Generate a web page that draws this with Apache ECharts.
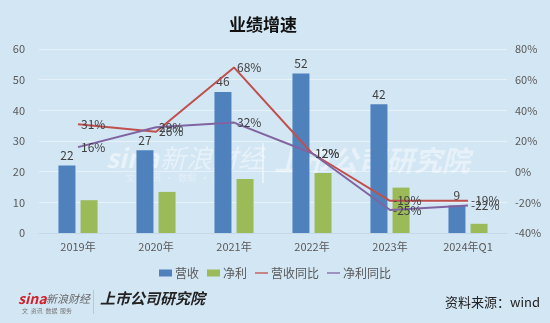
<!DOCTYPE html>
<html><head><meta charset="utf-8">
<script src="https://cdn.jsdelivr.net/npm/echarts@6/dist/echarts.min.js"></script>
<style>html,body{margin:0;padding:0;background:#d3e6f4;}#c{width:550px;height:323px;}</style>
</head><body><div id="c"></div>
<script>
const categories = ['2019年','2020年','2021年','2022年','2023年','2024年Q1'];
const revenue = [22, 27, 46, 52, 42, 9];
const profit = [10.7, 13.4, 17.6, 19.6, 14.8, 3.0];
const revenueYoY = [31, 26, 68, 12, -19, -19];
const profitYoY = [16, 29, 32, 12, -25, -22];
const leftTicks = [0, 10, 20, 30, 40, 50, 60];
const rightTicks = [-40, -20, 0, 20, 40, 60, 80];

const chart = echarts.init(document.getElementById('c'), null, {renderer:'canvas'});
const font = '"Noto Sans CJK SC", "Noto Sans", sans-serif';
const gray = '#595959';
const lineLabel = {show: true, position: 'right', color: '#404040', fontSize: 12, distance: 3, formatter: '{c}%'};
chart.setOption({
  backgroundColor: '#d3e6f4',
  animation: false,
  textStyle: {fontFamily: font},
  title: {text: '业绩增速', left: 258, top: 11, textAlign: 'center',
    textStyle: {fontSize: 17, fontWeight: 'bold', color: '#111', fontFamily: font}},
  grid: {left: 39, right: 43, top: 49, bottom: 90},
  legend: {top: 262, left: 'center', itemGap: 8, itemWidth: 13, itemHeight: 7,
    textStyle: {color: gray, fontSize: 12, fontFamily: font, padding: [0, 0, 0, -2]},
    data: [
      {name: '营收', icon: 'rect'},
      {name: '净利', icon: 'rect'},
      {name: '营收同比', icon: 'path://M0,0 L20,0 L20,2 L0,2 Z'},
      {name: '净利同比', icon: 'path://M0,0 L20,0 L20,2 L0,2 Z'}
    ]},
  xAxis: {type: 'category', data: categories,
    axisLine: {show: true, lineStyle: {color: '#c5d8e8'}}, axisTick: {show: false},
    axisLabel: {color: gray, fontSize: 11, margin: 8}},
  yAxis: [
    {type: 'value', min: leftTicks[0], max: leftTicks[leftTicks.length-1], interval: 10,
      axisLabel: {color: gray, fontSize: 11, margin: 14},
      splitLine: {lineStyle: {color: 'rgba(255,255,255,0.45)'}}, axisLine: {show: false}},
    {type: 'value', min: rightTicks[0], max: rightTicks[rightTicks.length-1], interval: 20,
      axisLabel: {color: gray, fontSize: 11, margin: 8, formatter: '{value}%'},
      splitLine: {show: false}, axisLine: {show: false}}
  ],
  series: [
    {name: '营收', type: 'bar', data: revenue, barWidth: 17, barGap: '30%', z: 5,
      itemStyle: {color: '#4f81bd'},
      label: {show: true, position: 'top', color: '#404040', fontSize: 12, distance: 4}},
    {name: '净利', type: 'bar', data: profit, barWidth: 17, z: 5,
      itemStyle: {color: '#9bbb59'}},
    {name: '营收同比', type: 'line', yAxisIndex: 1, data: revenueYoY, showSymbol: true, symbol: 'circle', symbolSize: 0.1, z: 6,
      lineStyle: {color: '#c0504d', width: 2}, itemStyle: {color: '#c0504d'},
      label: lineLabel, labelLayout: {hideOverlap: false}},
    {name: '净利同比', type: 'line', yAxisIndex: 1, data: profitYoY, showSymbol: true, symbol: 'circle', symbolSize: 0.1, z: 6,
      lineStyle: {color: '#8064a2', width: 2}, itemStyle: {color: '#8064a2'},
      label: lineLabel, labelLayout: {hideOverlap: false}}
  ],
  graphic: {z: 1, elements: [
    {type: 'text', left: 106, top: 145, silent: true,
      style: {text: 'sina', fill: 'rgba(255,255,255,0.5)', font: 'italic bold 26px ' + font}},
    {type: 'text', left: 160, top: 145, silent: true,
      style: {text: '新浪财经', fill: 'rgba(255,255,255,0.45)', font: 'italic 26px ' + font}},
    {type: 'text', left: 126, top: 173, silent: true,
      style: {text: '文    资讯  ·  数据  ·  服务', fill: 'rgba(255,255,255,0.4)', font: '9px ' + font}},
    {type: 'rect', left: 262, top: 143, silent: true, shape: {width: 2, height: 40}, style: {fill: 'rgba(255,255,255,0.45)'}},
    {type: 'text', left: 274, top: 146, silent: true,
      style: {text: '上市公司研究院', fill: 'rgba(255,255,255,0.45)', font: 'italic bold 28px ' + font}},
    {type: 'text', left: 18, top: 292, silent: true,
      style: {text: 'sina', fill: '#d0202a', font: 'italic bold 14px ' + font}},
    {type: 'text', left: 46, top: 293, silent: true,
      style: {text: '新浪财经', fill: '#666', font: 'italic 11px ' + font}},
    {type: 'text', left: 22, top: 308, silent: true,
      style: {text: '文  资讯  数据  服务', fill: '#777', font: '6px ' + font}},
    {type: 'rect', left: 93, top: 290, silent: true, shape: {width: 1, height: 24}, style: {fill: '#b8c8d8'}},
    {type: 'text', left: 100, top: 291, silent: true,
      style: {text: '上市公司研究院', fill: '#222', font: 'italic bold 15px ' + font}},
    {type: 'text', right: 10, top: 296, silent: true,
      style: {text: '资料来源：wind', fill: '#222', font: '13px ' + font}}
  ]}
});
</script></body></html>
